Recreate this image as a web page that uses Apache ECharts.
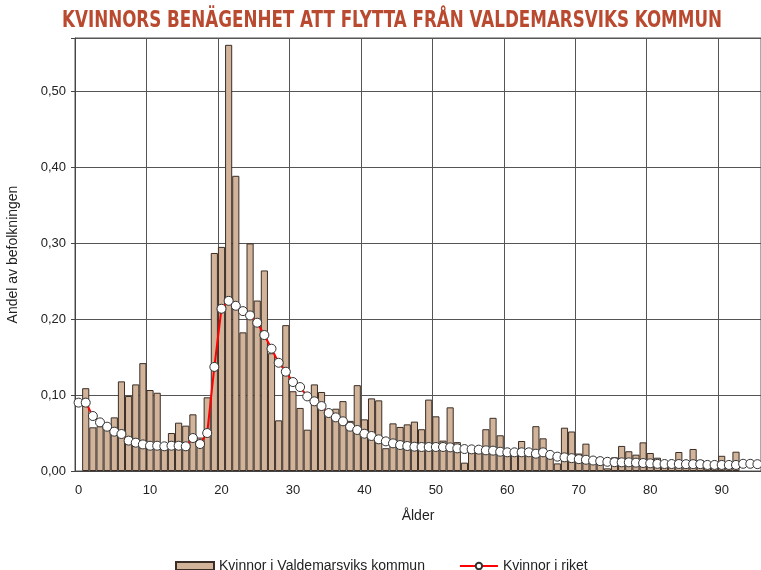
<!DOCTYPE html>
<html>
<head>
<meta charset="utf-8">
<script src="https://cdn.jsdelivr.net/npm/echarts@6/dist/echarts.min.js"></script>
<style>
  html, body { margin: 0; padding: 0; background: #fff; }
  #chart { width: 761px; height: 570px; }
</style>
</head>
<body>
<div id="chart"></div>
<script>
// ålder 0..95
var ages = []
for (var a = 0; a <= 95; a++) ages.push(String(a))

// Kvinnor i Valdemarsviks kommun (staplar)
var kommunValues = [
  null, 0.109, 0.0575, 0.059, 0.056, 0.0706, 0.118, 0.0987, 0.114, 0.142,
  0.1066, 0.103, 0.032, 0.050, 0.0636, 0.0597, 0.0746, 0.044, 0.097, 0.287,
  0.295, 0.561, 0.3886, 0.1825, 0.2996, 0.2244, 0.264, 0.155, 0.0667, 0.192,
  0.105, 0.083, 0.0544, 0.114, 0.104, 0.076, 0.082, 0.092, 0.066, 0.113,
  0.068, 0.0956, 0.093, 0.030, 0.0627, 0.058, 0.0614, 0.065, 0.055, 0.094,
  0.072, 0.040, 0.0838, 0.038, 0.011, 0.027, 0.029, 0.055, 0.070, 0.047,
  0.021, 0.022, 0.0395, 0.022, 0.059, 0.043, 0.018, 0.010, 0.057, 0.052,
  0.023, 0.036, 0.012, 0.010, 0.0035, 0.018, 0.033, 0.026, 0.0215, 0.0377,
  0.0237, 0.0175, 0.006, 0.007, 0.025, 0.005, 0.029, 0.0145, 0.005, 0.004,
  0.020, 0.006, 0.0254, null, null, null
]

// Kvinnor i riket (linje)
var riketValues = [
  0.090, 0.090, 0.0724, 0.064, 0.0583, 0.0518, 0.0487, 0.040, 0.0373, 0.035,
  0.0333, 0.0333, 0.0325, 0.0333, 0.0333, 0.0325, 0.0434, 0.0355, 0.050, 0.137,
  0.2136, 0.224, 0.2175, 0.2105, 0.2048, 0.1952, 0.179, 0.161, 0.1425, 0.1307,
  0.1171, 0.1105, 0.0982, 0.0917, 0.0855, 0.0763, 0.0706, 0.0654, 0.0583, 0.054,
  0.0491, 0.0461, 0.0417, 0.039, 0.0364, 0.0342, 0.0329, 0.032, 0.0316, 0.0316,
  0.0316, 0.0316, 0.0311, 0.0298, 0.0289, 0.0285, 0.0281, 0.0272, 0.0268, 0.0254,
  0.0246, 0.0246, 0.0246, 0.0246, 0.0228, 0.0246, 0.0212, 0.0189, 0.018, 0.0169,
  0.0156, 0.0148, 0.0138, 0.013, 0.0121, 0.0116, 0.0114, 0.0114, 0.011, 0.0105,
  0.0101, 0.0094, 0.0092, 0.0092, 0.0092, 0.009, 0.009, 0.009, 0.008, 0.008,
  0.008, 0.008, 0.008, 0.0095, 0.0095, 0.009
]

var titleText = 'KVINNORS BENÄGENHET ATT FLYTTA FRÅN VALDEMARSVIKS KOMMUN'
var titleFamily = '"DejaVu Sans Condensed", "Liberation Sans", sans-serif'

// smal rubrik: mät bredden och pressa ihop till ~660 px
var ctx = document.createElement('canvas').getContext('2d')
ctx.font = 'bold 23px ' + titleFamily
var titleScale = 660 / ctx.measureText(titleText).width

var chart = echarts.init(document.getElementById('chart'))

chart.setOption({
  animation: false,
  textStyle: { fontFamily: 'Liberation Sans, Arial, sans-serif' },
  graphic: [{
    type: 'text',
    x: 392,
    y: 21,
    scaleX: titleScale,
    style: {
      text: titleText,
      fontFamily: titleFamily,
      fontWeight: 'bold',
      fontSize: 23,
      fill: '#b94a30',
      align: 'center',
      verticalAlign: 'middle'
    }
  }],
  grid: {
    left: 75,
    right: 0,
    top: 38,
    bottom: 99,
    containLabel: false,
    outerBoundsMode: 'none',
    show: true,
    borderColor: '#555',
    borderWidth: 1
  },
  legend: {
    top: 554,
    left: 170,
    itemWidth: 38,
    itemHeight: 8,
    itemGap: 34,
    textStyle: { fontSize: 14, color: '#222' },
    data: [
      { name: 'Kvinnor i Valdemarsviks kommun', icon: 'rect' },
      { name: 'Kvinnor i riket' }
    ]
  },
  xAxis: {
    type: 'category',
    data: ages,
    boundaryGap: true,
    name: 'Ålder',
    nameLocation: 'middle',
    nameGap: 38,
    nameTextStyle: { fontSize: 14, color: '#222' },
    axisLine: { lineStyle: { color: '#444' } },
    axisTick: { interval: 9, length: 5, lineStyle: { color: '#444' } },
    axisLabel: { interval: 9, margin: 13, fontSize: 13, color: '#222' },
    splitLine: { show: true, interval: 9, lineStyle: { color: '#555' } }
  },
  yAxis: {
    type: 'value',
    min: 0,
    max: 0.57,
    interval: 0.1,
    name: 'Andel av befolkningen',
    nameLocation: 'middle',
    nameGap: 55,
    nameRotate: 90,
    nameTextStyle: { fontSize: 14, color: '#222' },
    axisLine: { show: true, lineStyle: { color: '#444' } },
    axisTick: { show: true, length: 4, lineStyle: { color: '#444' } },
    axisLabel: {
      margin: 9,
      fontSize: 13,
      color: '#222',
      formatter: function (v) {
        var t = Math.round(v * 10)
        if (Math.abs(v * 10 - t) > 1e-6) return ''
        return v.toFixed(2).replace('.', ',')
      }
    },
    splitLine: { lineStyle: { color: '#555' } }
  },
  series: [
    {
      name: 'Kvinnor i Valdemarsviks kommun',
      type: 'bar',
      data: kommunValues,
      barCategoryGap: '0%',
      itemStyle: { color: '#d2b49b', borderColor: '#3a2e27', borderWidth: 1 }
    },
    {
      name: 'Kvinnor i riket',
      type: 'line',
      data: riketValues,
      symbol: 'circle',
      symbolSize: 9,
      showAllSymbol: true,
      z: 5,
      lineStyle: { color: '#ff0000', width: 2 },
      itemStyle: { color: '#ffffff', borderColor: '#333', borderWidth: 1 }
    }
  ]
})
</script>
</body>
</html>
